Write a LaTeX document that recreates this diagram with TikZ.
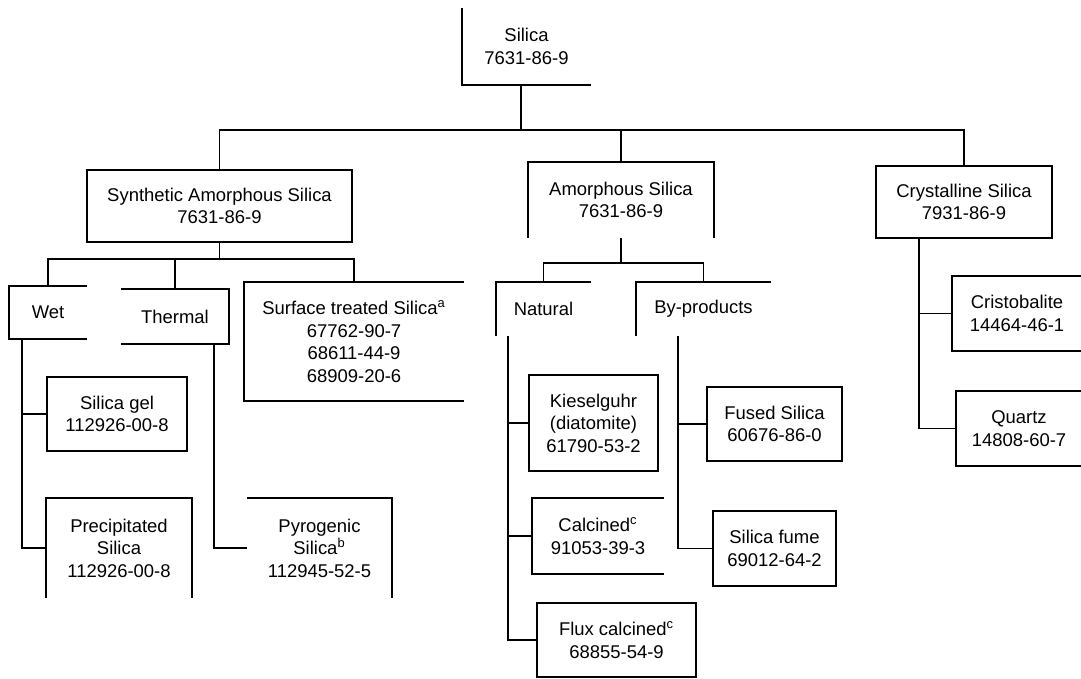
\documentclass[tikz,border=0pt]{standalone}
\usepackage{fontspec}
\setmainfont{Liberation Sans}
\usetikzlibrary{positioning, calc}

\tikzset{
  cas/.style 2 args={align=center, inner sep=0pt,
    minimum width=#1*0.02cm, minimum height=#2*0.02cm},
}

\begin{document}
\begin{tikzpicture}[x=0.02cm, y=-0.02cm, line width=1pt,
    font=\fontsize{10.5}{12.8}\selectfont]
    \useasboundingbox (0,0) rectangle (1081,679);
    % top level
    \node[cas={127}{75}] (silica) at (526.5,46.5) {Silica\\7631-86-9};
    \node[cas={265}{72}, draw] (sas) at (219.5,206) {Synthetic Amorphous Silica\\7631-86-9};
    \node[cas={184}{74}] (amorph) at (621,200) {Amorphous Silica\\7631-86-9};
    \node[cas={176}{72}, draw] (cryst) at (964,202) {Crystalline Silica\\7931-86-9};
    % synthetic branch
    \node[cas={76}{51}] (wet) at (48,312.5) {Wet};
    \node[cas={106}{53}] (thermal) at (175,316.5) {Thermal};
    \node[cas={218}{117}] (surf) at (354,341.5) {Surface treated Silica\textsuperscript{a}\\67762-90-7\\68611-44-9\\68909-20-6};
    \node[cas={140}{74}, draw] (gel) at (117,414) {Silica gel\\112926-00-8};
    \node[cas={144}{98}] (precip) at (119,548) {Precipitated\\Silica\\112926-00-8};
    \node[cas={143}{98}] (pyro) at (319.5,548) {Pyrogenic\\Silica\textsuperscript{b}\\112945-52-5};
    % amorphous branch
    \node[cas={93}{52}] (natural) at (543.5,309) {Natural};
    \node[cas={133}{52}] (byprod) at (703.5,309) {By-products};
    \node[cas={129}{96}, draw] (kiesel) at (593.5,423) {Kieselguhr\\(diatomite)\\61790-53-2};
    \node[cas={130}{74}] (calcined) at (598,536) {Calcined\textsuperscript{c}\\91053-39-3};
    \node[cas={159}{74}, draw] (flux) at (616.5,640) {Flux calcined\textsuperscript{c}\\68855-54-9};
    \node[cas={135}{74}, draw] (fused) at (774.5,424) {Fused Silica\\60676-86-0};
    \node[cas={123}{75}, draw] (fume) at (774.5,548.5) {Silica fume\\69012-64-2};
    % crystalline branch
    \node[cas={128}{73}] (cristo) at (1017,313.5) {Cristobalite\\14464-46-1};
    \node[cas={124}{73}] (quartz) at (1019,428.5) {Quartz\\14808-60-7};

    % open boxes
    \draw (silica.north west) -- (silica.south west) -- (silica.south east);
    \draw (amorph.south west) -- (amorph.north west) -- (amorph.north east) -- (amorph.south east);
    \draw (wet.north east) -- (wet.north west) -- (wet.south west) -- (wet.south east);
    \draw (thermal.north west) -- (thermal.north east) -- (thermal.south east) -- (thermal.south west);
    \draw (surf.north east) -- (surf.north west) -- (surf.south west) -- (surf.south east);
    \draw (precip.south west) -- (precip.north west) -- (precip.north east) -- (precip.south east);
    \draw (pyro.north west) -- (pyro.north east) -- (pyro.south east);
    \draw (natural.north east) -- (natural.north west) -- (natural.south west);
    \draw (byprod.north east) -- (byprod.north west) -- (byprod.south west);
    \draw (calcined.north east) -- (calcined.north west) -- (calcined.south west) -- (calcined.south east);
    \draw (cristo.north east) -- (cristo.north west) -- (cristo.south west) -- (cristo.south east);
    \draw (quartz.north east) -- (quartz.north west) -- (quartz.south west) -- (quartz.south east);

    % connectors
    \coordinate (bar) at (521,130);
    \draw (bar) -- (bar |- silica.south);
    \draw (sas.north) |- (bar) -| (cryst.north);
    \draw (amorph.north) -- (amorph.north |- bar);

    \coordinate (sasbar) at ($(sas.south)+(-4.5,16)$);
    \draw (sas.south) -- (sas.south |- sasbar);
    \draw (wet.north) |- (sasbar) -| (surf.north);
    \draw (thermal.north) -- (thermal.north |- sasbar);
    \draw ($(wet.south west)+(13,0)$) |- (gel.west);
    \draw ($(wet.south west)+(13,0)$) |- (precip.west);
    \draw ($(thermal.south east)+(-15,0)$) |- (pyro.west);

    \coordinate (ambar) at ($(amorph.south)+(-2,25)$);
    \draw (amorph.south) -- (amorph.south |- ambar);
    \draw (natural.north) |- (ambar) -| (byprod.north);
    \draw ($(natural.south west)+(12,0)$) |- (kiesel.west);
    \draw ($(natural.south west)+(12,0)$) |- (calcined.west);
    \draw ($(natural.south west)+(12,0)$) |- (flux.west);
    \draw ($(byprod.south west)+(42,0)$) |- (fused.west);
    \draw ($(byprod.south west)+(42,0)$) |- (fume.west);

    \draw ($(cryst.south west)+(44,0)$) |- (cristo.west);
    \draw ($(cryst.south west)+(44,0)$) |- (quartz.west);
\end{tikzpicture}
\end{document}
